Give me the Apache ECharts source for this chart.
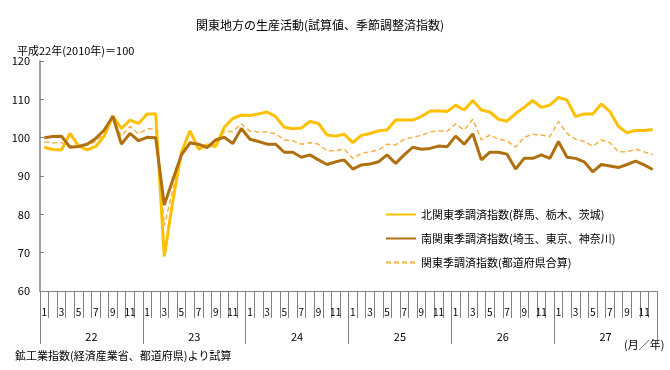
<!DOCTYPE html>
<html><head><meta charset="utf-8">
<script src="https://cdn.jsdelivr.net/npm/echarts@6/dist/echarts.min.js"></script>
<style>html,body{margin:0;padding:0;background:#fff}#c{width:670px;height:370px}</style>
</head><body><div id="c"></div>
<script>
const months = ['1','2','3','4','5','6','7','8','9','10','11','12'];
const years = ['22','23','24','25','26','27'];
const yTicks = [60,70,80,90,100,110,120];
const seriesNames = ['北関東季調済指数(群馬、栃木、茨城)','南関東季調済指数(埼玉、東京、神奈川)','関東季調済指数(都道府県合算)'];
const north = [97.5,96.9,96.8,101.1,97.8,96.8,97.7,100.4,105.6,102.4,104.6,103.7,
106.2,106.2,69.0,83.5,96.2,101.8,97.0,98.1,97.7,102.7,105.0,105.9,
105.8,106.2,106.7,105.5,102.7,102.3,102.5,104.2,103.7,100.7,100.4,100.9,
98.7,100.6,101.1,101.8,102.0,104.6,104.6,104.6,105.5,106.9,107.0,106.8,
108.5,107.2,109.7,107.2,106.7,104.8,104.3,106.3,107.9,109.7,107.9,108.5,
110.5,109.8,105.5,106.2,106.2,108.8,106.8,102.9,101.3,101.9,101.9,102.1];
const south = [100.0,100.3,100.4,97.5,97.7,98.3,99.8,102.0,105.6,98.3,101.1,99.2,
100.1,100.0,82.4,89.0,95.5,98.6,98.3,97.4,99.4,100.1,98.5,102.4,
99.6,99.0,98.3,98.3,96.2,96.2,94.9,95.5,94.2,93.0,93.7,94.2,
91.8,92.9,93.1,93.7,95.5,93.3,95.5,97.5,97.0,97.2,97.8,97.6,
100.4,98.3,101.0,94.2,96.2,96.2,95.7,91.8,94.6,94.6,95.5,94.6,
99.0,94.9,94.6,93.7,91.1,93.0,92.6,92.2,93.0,93.9,92.9,91.7];
const kanto = [98.9,98.7,98.7,97.8,98.1,98.1,99.0,101.1,105.0,100.4,102.9,101.0,
102.3,102.3,77.0,86.5,95.5,99.0,97.9,98.1,98.3,101.6,101.6,103.6,
101.7,101.5,101.5,101.0,99.4,99.2,98.3,98.7,98.3,96.6,96.6,97.0,
94.6,95.9,96.3,96.8,98.3,98.1,99.6,100.1,100.6,101.5,101.8,101.6,
103.6,102.0,104.8,99.4,100.7,99.6,99.2,97.5,100.1,100.9,100.7,100.3,
104.2,101.1,99.6,99.0,97.8,99.4,98.7,96.3,96.3,97.0,96.3,95.5];

const monthCats = [];
years.forEach(y => months.forEach(m => monthCats.push(m)));

const FONT = '"Noto Sans CJK JP", sans-serif';
const chart = echarts.init(document.getElementById('c'), null, {renderer: 'canvas'});
chart.setOption({
  animation: false,
  backgroundColor: '#ffffff',
  textStyle: {fontFamily: FONT, color: '#000'},
  title: [
    {text: '関東地方の生産活動(試算値、季節調整済指数)', left: 315, top: 14, textAlign: 'center',
     textStyle: {fontSize: 12, fontWeight: 'normal', color: '#000', fontFamily: FONT}},
    {text: '平成22年(2010年)＝100', left: 12, top: 40,
     textStyle: {fontSize: 11, fontWeight: 'normal', color: '#000', fontFamily: FONT}},
    {text: '鉱工業指数(経済産業省、都道府県)より試算', left: 10, top: 345,
     textStyle: {fontSize: 11, fontWeight: 'normal', color: '#000', fontFamily: FONT}},
    {text: '(月／年)', left: 619, top: 334,
     textStyle: {fontSize: 11, fontWeight: 'normal', color: '#000', fontFamily: FONT}}
  ],
  legend: {
    orient: 'vertical', left: 380, top: 204, itemWidth: 30, itemHeight: 10, itemGap: 13,
    itemStyle: {opacity: 0},
    textStyle: {fontSize: 11, color: '#000', fontFamily: FONT},
    data: seriesNames
  },
  grid: {left: 40, right: 13, top: 61, bottom: 79},
  xAxis: [
    {type: 'category', data: monthCats, boundaryGap: true, position: 'bottom',
     axisLine: {lineStyle: {color: '#808080', width: 1}},
     axisTick: {show: true, interval: 0, length: 27, lineStyle: {color: '#808080'}},
     axisLabel: {interval: 1, margin: 16, fontSize: 10, color: '#000', fontFamily: FONT}},
    {type: 'category', data: years, boundaryGap: true, position: 'bottom',
     axisLine: {show: false},
     axisTick: {show: true, interval: 0, length: 53, lineStyle: {color: '#808080'}},
     axisLabel: {interval: 0, margin: 40, fontSize: 11, color: '#000', fontFamily: FONT}}
  ],
  yAxis: {
    type: 'value', min: yTicks[0], max: yTicks[yTicks.length - 1], interval: 10,
    axisLine: {show: true, lineStyle: {color: '#808080', width: 1.5}},
    axisTick: {show: true, inside: true, length: 4, lineStyle: {color: '#808080'}},
    splitLine: {show: false},
    axisLabel: {fontSize: 11, color: '#000', margin: 10, fontFamily: FONT}
  },
  series: [
    {name: seriesNames[0], type: 'line', data: north, symbol: 'none', xAxisIndex: 0, z: 3,
     lineStyle: {color: '#FFC000', width: 3}, itemStyle: {color: '#FFC000'}},
    {name: seriesNames[1], type: 'line', data: south, symbol: 'none', xAxisIndex: 0, z: 4,
     lineStyle: {color: '#B07010', width: 3}, itemStyle: {color: '#B07010'}},
    {name: seriesNames[2], type: 'line', data: kanto, symbol: 'none', xAxisIndex: 0, z: 2,
     lineStyle: {color: '#F8B040', width: 1.5, type: [5, 3]}, itemStyle: {color: '#F8B040'}}
  ]
});
</script></body></html>
